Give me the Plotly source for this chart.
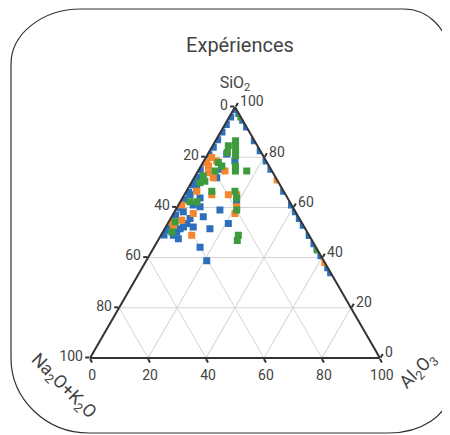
import plotly.graph_objects as go

# ---- data: (SiO2, Na2O+K2O, Al2O3) in % ----
blue_sio2 = [99, 96, 93, 90, 87, 84, 81, 78, 75, 72, 69, 66, 63, 60, 57, 54, 51, 49,
             97.4, 94.7, 92, 86.6, 82.6, 78.5, 75.2, 66.4, 61, 58.3, 55.6, 52.9, 48.8, 45.5, 43.4, 40.7, 36, 34,
             81.3, 78.5, 75.2, 71.8, 70.4, 67.7, 65, 63.7, 62.3, 61, 60.3, 59, 58.3, 56.3, 55.6, 53.6, 53.6,
             52.9, 52.2, 52.2, 51.5, 51.5, 50.2, 48.9, 47.5, 44.1, 38.7]
blue_alk = [1, 3.5, 6.5, 9.5, 12.5, 15.5, 18.5, 21.5, 24.5, 27, 30, 33, 36, 39, 42, 45, 48, 50,
            0, 0, 0, 0, 0, 0, 0, 0, 0, 0, 0, 0, 0, 0, 0, 0, 0, 0,
            12.2, 10.8, 17, 20.4, 29.2, 29.4, 33, 30.2, 18.3, 33.9, 31.9, 25.7, 38.7, 32.8, 37.7, 39.8, 25.5,
            46, 41.7, 38.3, 43.2, 32.9, 45, 46.8, 45.8, 40, 40.4]
blue_al2o3 = [0, 0.5, 0.5, 0.5, 0.5, 0.5, 0.5, 0.5, 0.5, 1, 1, 1, 1, 1, 1, 1, 1, 1,
              2.6, 5.3, 8, 13.4, 17.4, 21.5, 24.8, 33.6, 39, 41.7, 44.4, 47.1, 51.2, 54.5, 56.6, 59.3, 64, 66,
              6.5, 10.7, 7.8, 7.8, 0.4, 2.9, 2, 6.1, 19.4, 5.1, 7.8, 15.3, 3, 10.9, 6.7, 6.6, 20.9,
              1.1, 6.1, 9.5, 5.3, 15.6, 4.8, 4.3, 6.7, 15.9, 20.9]

orange_sio2 = [79.9, 78.5, 77.9, 76.5, 74.5, 73.8, 71.8, 66.4, 65, 65, 65, 61, 60.3, 57.6, 57.6,
               54.9, 54.3, 52.9, 48.9, 70.9, 38]
orange_alk = [18.1, 17.1, 20.8, 20.9, 16.2, 22.3, 21.6, 30, 25.5, 19.8, 16.9, 37.9, 19.3, 21.2, 35.6,
              40.9, 44.7, 44.8, 40.5, 0, 0]
orange_al2o3 = [2, 4.4, 1.3, 2.6, 9.3, 3.9, 6.6, 3.6, 9.5, 15.2, 18.1, 1.1, 20.4, 21.2, 6.8,
                4.2, 1, 2.3, 10.6, 29.1, 62]

green_sio2 = [86.6, 84.6, 82.6, 80.6, 76.5, 74.5, 84.6, 81.9, 74.5, 77.9, 76.5, 74.5, 72.5, 70.4,
              69.8, 66.4, 62.3, 62.3, 66.4, 63.7, 59, 54.3, 50.2, 48.9, 46.8, 96, 43]
green_alk = [6.5, 7.5, 8.5, 9.5, 11.6, 12.6, 10, 11.7, 8.7, 16.8, 16.3, 19.6, 24.7, 25.2,
             27.2, 24.8, 32, 34.4, 16.8, 17.6, 19.9, 43.5, 46.7, 24.4, 25.8, 0, 0]
green_al2o3 = [6.9, 7.9, 8.9, 9.9, 11.9, 12.9, 5.4, 6.4, 16.8, 5.3, 7.2, 5.9, 2.8, 4.4,
               3, 8.8, 5.7, 3.3, 16.8, 18.7, 21.1, 2.2, 3.1, 26.7, 27.4, 4, 57]

tick_vals = [0, 20, 40, 60, 80, 100]
tick_text = ["100", "80", "60", "40", "20", "0"]

# the page body has an 8px margin: figure is made 8px smaller and all
# decoration positions are given in window pixels minus that offset
OFF = 8
W, H = 450 - OFF, 435 - OFF
FONT = "Roboto, 'Open Sans', sans-serif"


def fx(X):
    return (X - OFF) / W


def fy(Y):
    return 1 - (Y - OFF) / H


fig = go.Figure()
for name, a, b, c, col in [
    ("Série 1", blue_sio2, blue_alk, blue_al2o3, "#2c6fbb"),
    ("Série 2", orange_sio2, orange_alk, orange_al2o3, "#f5862d"),
    ("Série 3", green_sio2, green_alk, green_al2o3, "#3d9b3d"),
]:
    fig.add_trace(go.Scatterternary(
        a=a, b=b, c=c, mode="markers", name=name,
        marker=dict(symbol="square", size=7, color=col, line=dict(width=0)),
        showlegend=False,
    ))


def axis(title=""):
    return dict(
        title=dict(text=title, font=dict(size=16, color="#444", family=FONT)),
        tickvals=tick_vals, ticktext=tick_text,
        tickfont=dict(size=14, color="#444", family=FONT),
        ticks="outside", ticklen=4, tickcolor="#333", tickwidth=1.5,
        showline=True, linecolor="#333", linewidth=2,
        showgrid=True, gridcolor="#d4d4d4", gridwidth=1,
        min=0,
    )


def P(X, Y):
    return f"{fx(X):.4f},{fy(Y):.4f}"


# rounded frame (decoration), window pixel positions
L, R, T, B = 11, 448.5, 9, 433
rtl, rtr, rbl, rbr = (70, 55), (45, 45), (78, 75), (60, 40)
k = 0.45
path = (f"M {P(L + rtl[0], T)} L {P(R - rtr[0], T)} "
        f"C {P(R - rtr[0] * k, T)} {P(R, T + rtr[1] * k)} {P(R, T + rtr[1])} "
        f"L {P(R, B - rbr[1])} "
        f"C {P(R, B - rbr[1] * k)} {P(R - rbr[0] * k, B)} {P(R - rbr[0], B)} "
        f"L {P(L + rbl[0], B)} "
        f"C {P(L + rbl[0] * k, B)} {P(L, B - rbl[1] * k)} {P(L, B - rbl[1])} "
        f"L {P(L, T + rtl[1])} "
        f"C {P(L, T + rtl[1] * k)} {P(L + rtl[0] * k, T)} {P(L + rtl[0], T)} Z")

fig.update_layout(
    width=W, height=H,
    margin=dict(l=0, r=0, t=0, b=0, autoexpand=False),
    paper_bgcolor="white",
    font=dict(family=FONT, color="#444"),
    title=dict(text="Expériences", x=fx(240), y=fy(45), xanchor="center", yanchor="middle",
               font=dict(size=20, color="#444", family=FONT)),
    ternary=dict(
        sum=100,
        bgcolor="white",
        domain=dict(x=[fx(90), fx(380)], y=[fy(358), fy(107)]),
        aaxis=axis("SiO<sub>2</sub>"),
        baxis=axis(),
        caxis=axis(),
    ),
    shapes=[dict(type="path", xref="paper", yref="paper", path=path,
                 line=dict(color="#333", width=1.2), fillcolor="rgba(0,0,0,0)", layer="below")],
    annotations=[
        dict(text="Na<sub>2</sub>O+K<sub>2</sub>O", x=fx(63), y=fy(386), xref="paper", yref="paper",
             xanchor="center", yanchor="middle",
             showarrow=False, textangle=45, font=dict(size=18, color="#444", family=FONT)),
        dict(text="Al<sub>2</sub>O<sub>3</sub>", x=fx(418), y=fy(371), xref="paper", yref="paper",
             xanchor="center", yanchor="middle",
             showarrow=False, textangle=-45, font=dict(size=18, color="#444", family=FONT)),
    ],
)

fig.write_html("out.html")
